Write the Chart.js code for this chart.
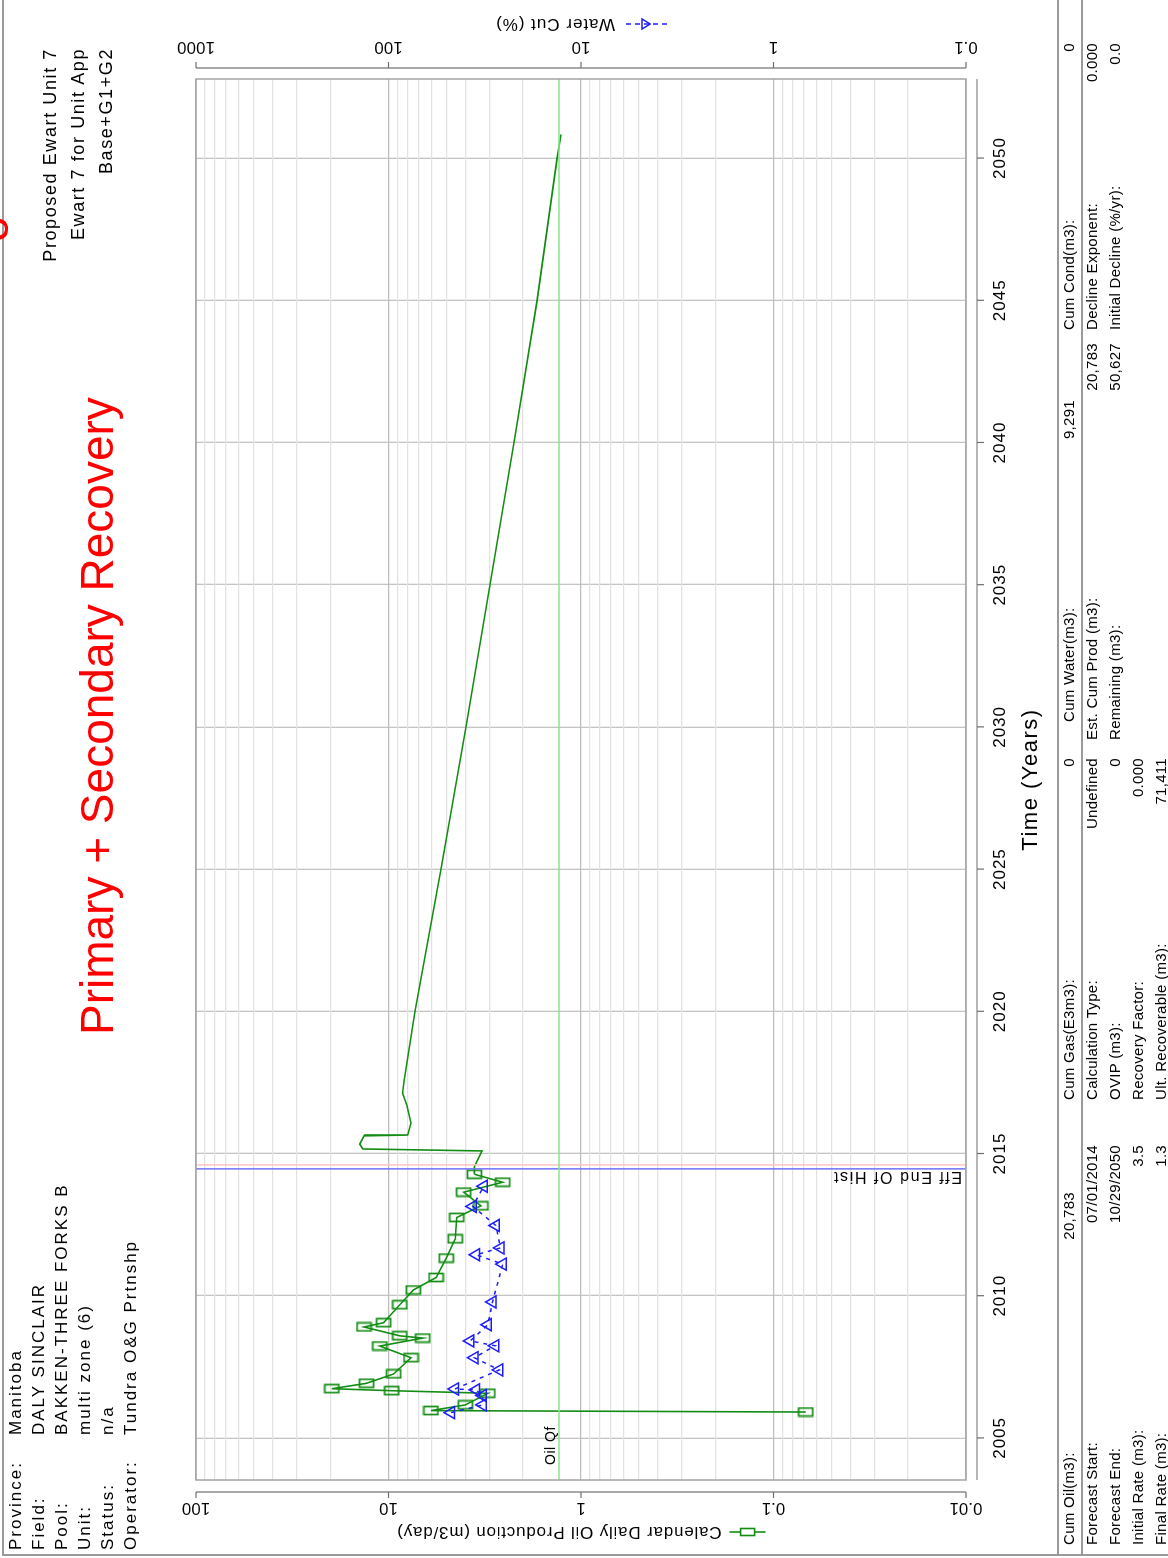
<!DOCTYPE html>
<html>
<head>
<meta charset="utf-8">
<title>Proposed Ewart Unit 7 - Primary + Secondary Recovery</title>
<script src="https://cdn.jsdelivr.net/npm/chart.js@4.4.1/dist/chart.umd.min.js"></script>
<style>
  html, body { margin: 0; padding: 0; background: #fff; overflow: hidden; }
  body { width: 1168px; height: 1558px; position: relative; }
  #page {
    position: absolute; left: 0; top: 0; width: 1558px; height: 1168px;
    transform-origin: 0 0; transform: translate(0, 1558px) rotate(-90deg);
    font-family: "Liberation Sans", Arial, sans-serif; color: #000;
  }
  #chart { position: absolute; left: 0; top: 0; }
  .frameL { position: absolute; left: 2px; top: 2px; width: 2px; height: 1166px; background: #9a9a9a; }
  .frameT { position: absolute; left: 2px; top: 2px; width: 1556px; height: 2px; background: #9a9a9a; }
  .hline { position: absolute; left: 2px; width: 1556px; height: 2px; background: #9a9a9a; }
  #info { position: absolute; left: 8px; top: 4px; font-size: 17px; line-height: 23px; letter-spacing: 2px; }
  #info td { padding: 0; }
  #info td.k { width: 115px; }
  #ref { position: absolute; right: 48px; top: 36px; font-size: 18px; line-height: 28px; text-align: right; letter-spacing: 1.6px; }
  .red { position: absolute; font-size: 46px; line-height: 46px; color: #f00; white-space: nowrap; }
  .cell { position: absolute; font-size: 15px; line-height: 18px; white-space: nowrap; letter-spacing: 0.3px; }
</style>
</head>
<body>
<div id="page">
  <canvas id="chart" width="1558" height="1168"></canvas>
  <div class="frameL"></div>
  <div class="frameT"></div>
  <div class="hline" style="top:1057px"></div>
  <div class="hline" style="top:1081px"></div>
  <table id="info" cellspacing="0">
    <tr><td class="k">Province:</td><td>Manitoba</td></tr>
    <tr><td class="k">Field:</td><td>DALY SINCLAIR</td></tr>
    <tr><td class="k">Pool:</td><td>BAKKEN-THREE FORKS B</td></tr>
    <tr><td class="k">Unit:</td><td>multi zone (6)</td></tr>
    <tr><td class="k">Status:</td><td>n/a</td></tr>
    <tr><td class="k">Operator:</td><td>Tundra O&amp;G Prtnshp</td></tr>
  </table>
  <div id="ref">Proposed Ewart Unit 7<br>Ewart 7 for Unit App<br>Base+G1+G2</div>
  <div class="red" style="left:523px; top:74px">Primary + Secondary Recovery</div>
  <div class="red" style="left:1316px; top:-31px">o</div>
  <div id="table"></div>
</div>
<script>
// ---- data ----
const timeTicks = [2005, 2010, 2015, 2020, 2025, 2030, 2035, 2040, 2045, 2050];
const oilTicks = [0.01, 0.1, 1, 10, 100];
const oilTickLabels = ["0.01", "0.1", "1", "10", "100"];
const wcTicks = [0.1, 1, 10, 100, 1000];
const wcTickLabels = ["0.1", "1", "10", "100", "1000"];

// calendar daily oil, history (m3/day)
const histYears = [2005.91, 2005.96, 2006.16, 2006.57, 2006.66, 2006.73, 2006.92, 2007.25, 2007.82, 2008.23,
  2008.51, 2008.59, 2008.90, 2009.05, 2009.68, 2010.20, 2010.64, 2011.32, 2012.00, 2012.75,
  2013.16, 2013.64, 2013.99, 2014.27];
const histOil = [0.068, 6.02, 3.99, 3.05, 9.62, 19.7, 13.0, 9.4, 7.64, 11.1,
  6.64, 8.74, 13.4, 10.6, 8.74, 7.43, 5.66, 5.01, 4.50, 4.42,
  3.31, 4.07, 2.55, 3.58];

// water cut (%)
const wcYears = [2005.89, 2006.16, 2006.49, 2006.69, 2006.72, 2007.39, 2007.82, 2008.24, 2008.41, 2008.98,
  2009.78, 2011.11, 2011.44, 2011.68, 2012.47, 2013.14, 2013.85];
const wcPct = [47.3, 32.4, 32.4, 35.1, 45.2, 26.6, 35.8, 27.9, 37.6, 30.5,
  28.8, 25.5, 35.1, 26.2, 27.7, 36.5, 32.0];

// forecast oil (m3/day)
const fcYears = [2014.27, 2014.53, 2015.09, 2015.16, 2015.33, 2015.62, 2015.65, 2016.07, 2016.71, 2017.12,
  2017.59, 2020, 2025, 2030, 2035, 2040, 2045, 2050, 2050.83];
const fcOil = [3.58, 3.58, 3.27, 13.6, 14.1, 13.4, 7.95, 7.64, 8.03, 8.45,
  8.29, 7.28, 5.34, 3.96, 2.97, 2.23, 1.69, 1.33, 1.27];

const qfRate = 1.3;          // Oil Qf
const endHistYear = 2014.46; // Eff End Of Hist
const markYear = 2014.6;
const timeMin = 2003.52, timeMax = 2052.78;

const tableRows = [
  ["Cum Oil(m3):", "20,783", "Cum Gas(E3m3):", "0", "Cum Water(m3):", "9,291", "Cum Cond(m3):", "0"],
  ["Forecast Start:", "07/01/2014", "Calculation Type:", "Undefined", "Est. Cum Prod (m3):", "20,783", "Decline Exponent:", "0.000"],
  ["Forecast End:", "10/29/2050", "OVIP (m3):", "0", "Remaining (m3):", "50,627", "Initial Decline (%/yr):", "0.0"],
  ["Initial Rate (m3):", "3.5", "Recovery Factor:", "0.000", "", "", "", ""],
  ["Final Rate (m3):", "1.3", "Ult. Recoverable (m3):", "71,411", "", "", "", ""]
];

// ---- bottom table ----
const colLabelX = [13, 458, 818, 1228];
const colValueR = [413, 800, 1215, 1515];
const firstRowLabelX = [13, 458, 836, 1228];
const firstRowValueR = [366, 800, 1158, 1515];
const rowY = [1069, 1092, 1115, 1138, 1161];
const tbl = document.getElementById("table");
tableRows.forEach((row, r) => {
  const lx = r === 0 ? firstRowLabelX : colLabelX;
  const vr = r === 0 ? firstRowValueR : colValueR;
  for (let c = 0; c < 4; c++) {
    if (row[c * 2]) {
      const l = document.createElement("div");
      l.className = "cell";
      l.style.left = lx[c] + "px";
      l.style.top = (rowY[r] - 9) + "px";
      l.textContent = row[c * 2];
      tbl.appendChild(l);
    }
    if (row[c * 2 + 1]) {
      const v = document.createElement("div");
      v.className = "cell";
      v.style.right = (1558 - vr[c]) + "px";
      v.style.top = (rowY[r] - 9) + "px";
      v.textContent = row[c * 2 + 1];
      tbl.appendChild(v);
    }
  }
});

const green = "#128c12";
const blue = "#1c1cff";
const tickFont = '"Liberation Sans", Arial, sans-serif';

function makeBox(color) {
  const c = document.createElement("canvas");
  c.width = 11; c.height = 17;
  const g = c.getContext("2d");
  g.strokeStyle = color;
  g.lineWidth = 1.7;
  g.strokeRect(1.5, 1.5, 8, 14);
  return c;
}
const boxMarker = makeBox(green);

function seg(ctx, x1, y1, x2, y2) {
  ctx.beginPath(); ctx.moveTo(x1, y1); ctx.lineTo(x2, y2); ctx.stroke();
}
function vText(ctx, s, x, y) {
  ctx.save();
  ctx.translate(x, y);
  ctx.rotate(-Math.PI / 2);
  ctx.fillText(s, 0, 0);
  ctx.restore();
}

const axisDeco = {
  id: "axisDeco",
  afterDraw(chart) {
    const ctx = chart.ctx, a = chart.chartArea;
    const sx = chart.scales.x, sy = chart.scales.y, sw = chart.scales.y2;
    ctx.save();
    ctx.strokeStyle = "#a4a4a4";
    ctx.lineWidth = 1.5;
    ctx.strokeRect(a.left, a.top, a.right - a.left, a.bottom - a.top);

    ctx.strokeStyle = "#6e6e6e";
    ctx.lineWidth = 1.2;
    ctx.fillStyle = "#000";
    ctx.font = "17px " + tickFont;
    ctx.textAlign = "center";
    ctx.textBaseline = "middle";

    // time axis
    const ty = a.bottom + 11;
    seg(ctx, a.left, ty, a.right, ty);
    ctx.letterSpacing = "1px";
    timeTicks.forEach(t => {
      const p = sx.getPixelForValue(t);
      seg(ctx, p, ty, p, ty + 7);
      ctx.fillText(String(t), p, ty + 23);
    });
    ctx.letterSpacing = "0px";

    // oil axis
    const ox = a.left - 12;
    seg(ctx, ox, a.top, ox, a.bottom);
    oilTicks.forEach((v, i) => {
      const p = sy.getPixelForValue(v);
      seg(ctx, ox - 6, p, ox, p);
      vText(ctx, oilTickLabels[i], ox - 16, p);
    });

    // water cut axis
    const wx = a.right + 11;
    seg(ctx, wx, a.top, wx, a.bottom);
    wcTicks.forEach((v, i) => {
      const p = sw.getPixelForValue(v);
      seg(ctx, wx, p, wx + 6, p);
      vText(ctx, wcTickLabels[i], wx + 21, p);
    });

    const midY = (a.top + a.bottom) / 2;
    // oil axis title with legend symbol
    ctx.font = "17px " + tickFont;
    ctx.letterSpacing = "0.8px";
    let txt = "Calendar Daily Oil Production (m3/day)";
    let tw = ctx.measureText(txt).width;
    let total = 44 + tw;
    ctx.save();
    ctx.translate(a.left - 52, midY);
    ctx.rotate(-Math.PI / 2);
    let s0 = -total / 2;
    ctx.strokeStyle = green; ctx.lineWidth = 1.6;
    seg(ctx, s0, 0, s0 + 36, 0);
    ctx.fillStyle = "#fff";
    ctx.fillRect(s0 + 11, -3.5, 14, 7);
    ctx.strokeRect(s0 + 11, -3.5, 14, 7);
    ctx.fillStyle = "#000";
    ctx.textAlign = "left";
    ctx.fillText(txt, s0 + 44, 0);
    ctx.restore();

    // water cut title with legend symbol
    txt = "Water Cut (%)";
    ctx.letterSpacing = "1px";
    tw = ctx.measureText(txt).width;
    total = 52 + tw;
    ctx.save();
    ctx.translate(a.right + 55, midY);
    ctx.rotate(-Math.PI / 2);
    s0 = -total / 2;
    ctx.strokeStyle = blue; ctx.lineWidth = 1.5;
    ctx.setLineDash([5, 4]);
    seg(ctx, s0, 0, s0 + 42, 0);
    ctx.setLineDash([]);
    ctx.beginPath();
    ctx.moveTo(s0 + 17, 0); ctx.lineTo(s0 + 25, -5); ctx.lineTo(s0 + 25, 5); ctx.closePath();
    ctx.stroke();
    ctx.fillStyle = "#000";
    ctx.textAlign = "left";
    ctx.fillText(txt, s0 + 52, 0);
    ctx.restore();

    // time title
    ctx.font = "22px " + tickFont;
    ctx.letterSpacing = "1.5px";
    ctx.textAlign = "center";
    ctx.fillText("Time (Years)", (a.left + a.right) / 2, a.bottom + 65);

    // Oil Qf label
    ctx.font = "14px " + tickFont;
    ctx.letterSpacing = "0.5px";
    ctx.textAlign = "left";
    ctx.textBaseline = "alphabetic";
    ctx.fillText("Oil Qf", a.left + 15, sy.getPixelForValue(qfRate) - 4);

    // Eff End Of Hist label
    ctx.font = "16px " + tickFont;
    ctx.letterSpacing = "1.6px";
    ctx.save();
    ctx.translate(sx.getPixelForValue(endHistYear) - 3, a.bottom - 4);
    ctx.rotate(-Math.PI / 2);
    ctx.fillText("Eff End Of Hist", 0, 0);
    ctx.restore();

    ctx.restore();
  }
};

const pts = (xs, ys) => xs.map((x, i) => ({ x: x, y: ys[i] }));

function gridColor(ctx) {
  const v = ctx.tick.value;
  const e = Math.floor(Math.log10(v) + 1e-9);
  const m = v / Math.pow(10, e);
  if (Math.abs(m - 1) < 1e-6) return "#bdbdbd";
  if (Math.abs(m - 1.5) < 1e-6) return "rgba(0,0,0,0)";
  return "#e2e2e2";
}

new Chart(document.getElementById("chart"), {
  type: "scatter",
  data: {
    datasets: [
      { label: "Oil Qf", data: pts([timeMin, timeMax], [qfRate, qfRate]), showLine: true,
        borderColor: "#86e886", borderWidth: 1.5, pointRadius: 0 },
      { label: "Eff End Of Hist", data: pts([markYear, markYear], [0.01, 100]), showLine: true,
        borderColor: "#ffc4c4", borderWidth: 1.5, pointRadius: 0 },
      { label: "Eff End Of Hist", data: pts([endHistYear, endHistYear], [0.01, 100]), showLine: true,
        borderColor: "#7070ff", borderWidth: 1.5, pointRadius: 0 },
      { label: "Forecast", data: pts(fcYears, fcOil), showLine: true,
        borderColor: green, borderWidth: 1.6, pointRadius: 0 },
      { label: "Water Cut (%)", data: pts(wcYears, wcPct), yAxisID: "y2", showLine: true,
        borderColor: blue, borderWidth: 1.5, borderDash: [4, 5],
        pointStyle: "triangle", pointRadius: 7, pointBorderWidth: 1.5,
        pointBorderColor: blue, pointBackgroundColor: "rgba(0,0,0,0)" },
      { label: "Calendar Daily Oil Production (m3/day)", data: pts(histYears, histOil), showLine: true,
        borderColor: green, borderWidth: 1.6, pointStyle: boxMarker, pointRadius: 6 }
    ]
  },
  options: {
    responsive: false,
    animation: false,
    devicePixelRatio: 1,
    layout: { padding: { left: 78, right: 79, top: 196, bottom: 202 } },
    plugins: { legend: { display: false }, tooltip: { enabled: false } },
    scales: {
      x: {
        type: "linear", min: timeMin, max: timeMax,
        ticks: { display: false, stepSize: 5, includeBounds: false },
        grid: { color: "#c4c4c4", lineWidth: 1.3, drawTicks: false },
        border: { display: false }
      },
      y: {
        type: "logarithmic", position: "left", min: 0.01, max: 100,
        ticks: { display: false },
        grid: { color: gridColor, lineWidth: 1.2, drawTicks: false },
        border: { display: false }
      },
      y2: {
        type: "logarithmic", position: "right", min: 0.1, max: 1000,
        ticks: { display: false },
        grid: { display: false, drawTicks: false },
        border: { display: false }
      }
    }
  },
  plugins: [axisDeco]
});
</script>
</body>
</html>
